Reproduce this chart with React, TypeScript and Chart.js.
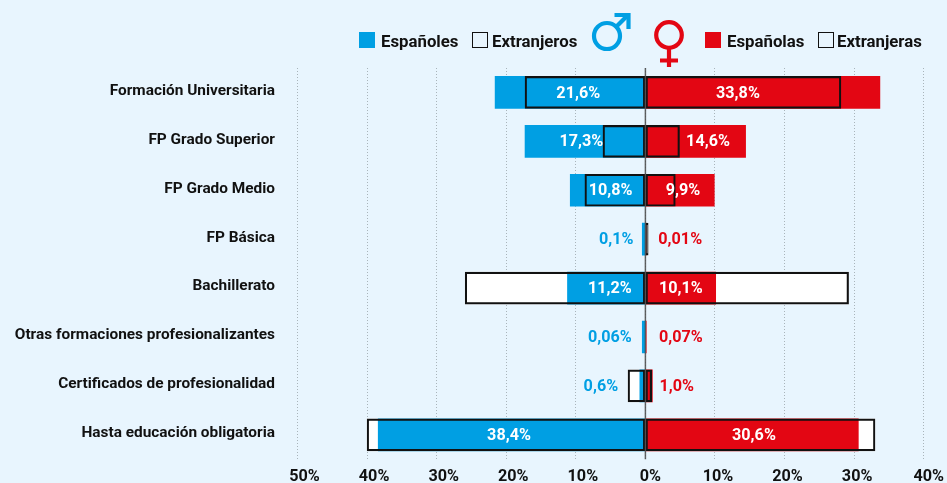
import React, { useEffect, useRef } from "react";
import { Chart, registerables } from "chart.js";

Chart.register(...registerables);

const categories = [
  "Formación Universitaria",
  "FP Grado Superior",
  "FP Grado Medio",
  "FP Básica",
  "Bachillerato",
  "Otras formaciones profesionalizantes",
  "Certificados de profesionalidad",
  "Hasta educación obligatoria",
];
const espanoles = [-21.6, -17.3, -10.8, -0.45, -11.2, -0.45, -0.8, -38.4];
const extranjeros = [-17.3, -6.1, -8.7, 0, -25.9, 0, -2.5, -40];
const espanolas = [33.7, 14.4, 9.9, 0.1, 10.1, 0.12, 1.0, 30.6];
const extranjeras = [28.1, 4.9, 4.3, 0.4, 29.2, 0, 0.9, 33.0];

const maleLabels = ["21,6%", "17,3%", "10,8%", "0,1%", "11,2%", "0,06%", "0,6%", "38,4%"];
const femaleLabels = ["33,8%", "14,6%", "9,9%", "0,01%", "10,1%", "0,07%", "1,0%", "30,6%"];
const maleLabelAt = [-9.65, -9.2, -5.0, -4.2, -5.1, -5.1, -6.4, -19.6];
const femaleLabelAt = [13.3, 9.0, 5.4, 5.0, 5.1, 5.1, 4.5, 15.6];
const labelInside = [true, true, true, false, true, false, false, true];

const xTicks = [-50, -40, -30, -20, -10, 0, 10, 20, 30, 40];

const BLUE = "#009fe3";
const RED = "#e30613";
const INK = "#111111";
const BG = "#e8f5fe";
const FONT = "Roboto, 'Liberation Sans', sans-serif";

const overlayPlugin = {
  id: "overlay",
  afterDatasetsDraw(chart: any) {
    const { ctx, scales, chartArea } = chart;
    const x = scales.x;
    const y = scales.y;
    ctx.save();
    const zero = x.getPixelForValue(0);
    ctx.strokeStyle = "rgba(70,70,70,0.85)";
    ctx.lineWidth = 1.5;
    ctx.beginPath();
    ctx.moveTo(zero, chartArea.top);
    ctx.lineTo(zero, chartArea.bottom);
    ctx.stroke();
    ctx.font = `700 16.2px ${FONT}`;
    ctx.textAlign = "center";
    ctx.textBaseline = "middle";
    categories.forEach((_, i) => {
      const py = y.getPixelForValue(i) + 1;
      ctx.fillStyle = labelInside[i] ? "#ffffff" : BLUE;
      ctx.fillText(maleLabels[i], x.getPixelForValue(maleLabelAt[i]), py);
      ctx.fillStyle = labelInside[i] ? "#ffffff" : RED;
      ctx.fillText(femaleLabels[i], x.getPixelForValue(femaleLabelAt[i]), py);
    });
    ctx.restore();
  },
};

function LegendItem({ left, swatch, text, textLeft }: { left: number; swatch: string | null; text: string; textLeft: number }) {
  return (
    <>
      <div
        style={{
          position: "absolute",
          left,
          top: 32,
          width: 16,
          height: 16,
          boxSizing: "border-box",
          background: swatch ?? "transparent",
          border: swatch ? "none" : `1.5px solid ${INK}`,
        }}
      />
      <div
        style={{
          position: "absolute",
          left: textLeft,
          top: 31,
          font: `700 16.8px ${FONT}`,
          lineHeight: "20px",
          color: INK,
          whiteSpace: "nowrap",
        }}
      >
        {text}
      </div>
    </>
  );
}

export default function App() {
  const ref = useRef<HTMLCanvasElement>(null);
  useEffect(() => {
    const bar = { grouped: false, barThickness: 32, borderSkipped: false };
    const chart = new Chart(ref.current!, {
      type: "bar",
      data: {
        labels: categories,
        datasets: [
          { ...bar, label: "Extranjeros", data: extranjeros, backgroundColor: "rgba(0,0,0,0)", borderColor: INK, borderWidth: (c: any) => (c.raw === 0 ? 0 : 1.5) },
          { ...bar, label: "Extranjeras", data: extranjeras, backgroundColor: "rgba(0,0,0,0)", borderColor: INK, borderWidth: (c: any) => (c.raw === 0 ? 0 : 1.5) },
          { ...bar, label: "Españoles", data: espanoles, backgroundColor: BLUE },
          { ...bar, label: "Españolas", data: espanolas, backgroundColor: RED },
          { ...bar, label: "Extranjeros fondo", data: extranjeros, backgroundColor: "#ffffff" },
          { ...bar, label: "Extranjeras fondo", data: extranjeras, backgroundColor: "#ffffff" },
        ],
      } as any,
      options: {
        indexAxis: "y",
        animation: false,
        responsive: false,
        layout: { padding: { top: 68, right: 21.5, bottom: 0, left: 0 } },
        plugins: { legend: { display: false }, tooltip: { enabled: false } },
        scales: {
          x: {
            type: "linear",
            min: -50,
            max: 40,
            afterBuildTicks: (s: any) => {
              s.ticks = xTicks.map((value) => ({ value }));
            },
            afterFit: (s: any) => {
              s.height = 24;
            },
            grid: { color: "#a9b4ba", lineWidth: 1, drawTicks: false },
            border: { display: false, dash: [1, 2] },
            ticks: {
              color: INK,
              font: { family: FONT, size: 16.2, weight: 700 },
              padding: 8,
              labelOffset: 5,
              maxRotation: 0,
              autoSkip: false,
              callback: (v: any) => (v < 0 ? ` ${-v}%` : v > 0 && v < 40 ? `${v}% ` : `${v}%`),
            },
          },
          y: {
            type: "category",
            afterFit: (s: any) => {
              s.width = 297.5;
            },
            grid: { display: false, drawTicks: false },
            border: { display: false },
            ticks: {
              color: INK,
              font: { family: FONT, size: 15.4, weight: 700 },
              padding: 22.5,
              labelOffset: -1.5,
              autoSkip: false,
            },
          },
        },
      } as any,
      plugins: [overlayPlugin],
    });
    return () => chart.destroy();
  }, []);

  return (
    <div style={{ position: "absolute", left: 0, top: 0, width: 947, height: 483, background: BG, overflow: "hidden" }}>
      <canvas ref={ref} width={947} height={491} style={{ position: "absolute", left: 0, top: 0, display: "block" }} />
      <LegendItem left={359} textLeft={381} swatch={BLUE} text="Españoles" />
      <LegendItem left={472} textLeft={492} swatch={null} text="Extranjeros" />
      <LegendItem left={705} textLeft={727} swatch={RED} text="Españolas" />
      <LegendItem left={818} textLeft={837} swatch={null} text="Extranjeras" />
      <svg width={947} height={483} style={{ position: "absolute", left: 0, top: 0 }} fill="none">
        <g stroke={BLUE} strokeWidth={4.2}>
          <circle cx={607} cy={36} r={13} />
          <path d="M616 27 L628 15" />
          <path d="M614.5 15 H628.5 V29" />
        </g>
        <g stroke={RED} strokeWidth={4.2}>
          <circle cx={669} cy={35} r={12.8} />
          <path d="M669 48 V67 M660 60.5 H678" />
        </g>
      </svg>
    </div>
  );
}
